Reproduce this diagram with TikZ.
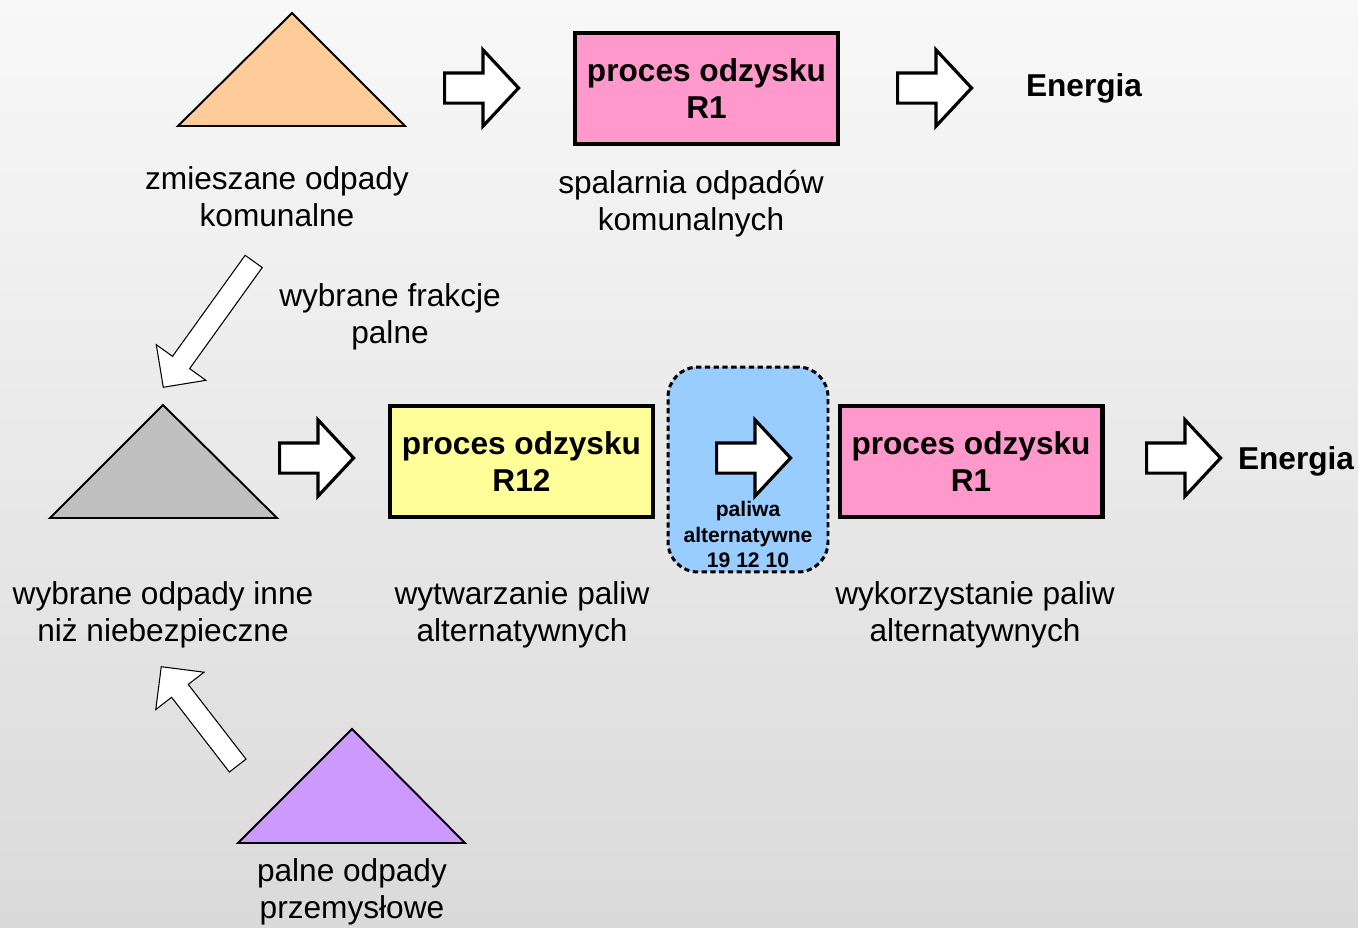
\documentclass[tikz,border=0pt]{standalone}
\usepackage{fontspec}
\setmainfont{Liberation Sans}
\usepackage{xcolor}
\usepackage{tikz}
\usetikzlibrary{shapes.arrows}
\definecolor{tloGora}{HTML}{F8F8F8}
\definecolor{tloDol}{HTML}{DADADA}
\definecolor{odzyskRozowy}{HTML}{FF99CC}
\definecolor{odzyskZolty}{HTML}{FFFF99}
\definecolor{paliwoNiebieski}{HTML}{99CCFF}
\definecolor{trojkatPomarancz}{HTML}{FFCC99}
\definecolor{trojkatSzary}{HTML}{C0C0C0}
\definecolor{trojkatFiolet}{HTML}{CC99FF}
\tikzset{
    odzyskbox/.style={
        draw, line width=2.3pt, align=center, font=\fontsize{18}{21.5}\selectfont\bfseries,
        minimum width=5.26cm, minimum height=2.22cm, inner sep=0pt},
    podpis/.style={align=center, font=\fontsize{18}{21}\selectfont},
    energia/.style={font=\fontsize{18}{21}\selectfont\bfseries},
    trojkat/.style={draw, line width=1.1pt, line join=miter},
    strzalka/.style={
        single arrow, draw, fill=white, line width=1.8pt, anchor=tail,
        inner xsep=0pt, inner ysep=0.27cm, minimum height=1.48cm, minimum width=1.46cm,
        single arrow head extend=0.46cm, single arrow tip angle=94},
    skosnastrzalka/.style={
        single arrow, draw, fill=white, line width=0.6pt, anchor=tail,
        inner xsep=0pt, inner ysep=0.2cm, minimum width=1.2cm,
        single arrow head extend=0.4cm, single arrow tip angle=90},
}
\begin{document}
\begin{tikzpicture}[x=0.02cm, y=-0.02cm]

    % --- tlo ---------------------------------------------------------------------
    \shade[top color=tloGora, bottom color=tloDol] (0,0) rectangle (1358,927);
    \useasboundingbox (0,0) rectangle (1358,927);

    % --- gorny rzad: spalarnia ----------------------------------------------------
    \draw[trojkat, fill=trojkatPomarancz] (178,126) -- (292,13) -- (405,126) -- cycle;
    \node[podpis] (zmieszane) at (277,197) {zmieszane odpady\\komunalne};
    \node[strzalka] (s1) at (443,88) {};
    \node[odzyskbox, fill=odzyskRozowy] (r1gora) at (706.5,88.5) {proces odzysku\\R1};
    \node[podpis] (spalarnia) at (691,203.5) {spalarnia odpadów\\komunalnych};
    \node[strzalka] (s2) at (896,88) {};
    \node[energia] (energia1) at (1084,88) {Energia};

    % --- frakcje palne -------------------------------------------------------------
    \node[skosnastrzalka, rotate=234.3, minimum height=3.1cm] (frakcje) at (254,261) {};
    \node[podpis] (frakcjetxt) at (390,316.5) {wybrane frakcje\\palne};

    % --- dolny rzad: paliwa alternatywne ------------------------------------------
    \draw[trojkat, fill=trojkatSzary] (50,518) -- (163,405) -- (277,518) -- cycle;
    \node[podpis] (wybrane) at (163,615) {wybrane odpady inne\\niż niebezpieczne};
    \node[strzalka] (s3) at (278,458) {};
    \node[odzyskbox, fill=odzyskZolty] (r12) at (521.5,461.5) {proces odzysku\\R12};
    \node[podpis] (wytwarzanie) at (522,615) {wytwarzanie paliw\\alternatywnych};

    \node[draw, line width=1.7pt, dash pattern=on 3pt off 2pt, rounded corners=0.6cm,
        fill=paliwoNiebieski, minimum width=3.2cm, minimum height=4.1cm] (paliwa) at (748,469.5) {};
    \node[strzalka] (s4) at (715,458) {};
    \node[align=center, font=\fontsize{12}{14.3}\selectfont\bfseries] (paliwatxt) at (748,534.5)
        {paliwa\\alternatywne\\19 12 10};

    \node[odzyskbox, fill=odzyskRozowy] (r1dol) at (971,461.5) {proces odzysku\\R1};
    \node[podpis] (wykorzystanie) at (975,615) {wykorzystanie paliw\\alternatywnych};
    \node[strzalka] (s5) at (1145,458) {};
    \node[energia] (energia2) at (1296,461) {Energia};

    % --- odpady przemyslowe -------------------------------------------------------
    \node[skosnastrzalka, rotate=127.7, minimum height=2.5cm] (przemyslowe) at (238,766) {};
    \draw[trojkat, fill=trojkatFiolet] (238,843) -- (352,729) -- (465,843) -- cycle;
    \node[podpis] (palne) at (352,892) {palne odpady\\przemysłowe};

\end{tikzpicture}
\end{document}
